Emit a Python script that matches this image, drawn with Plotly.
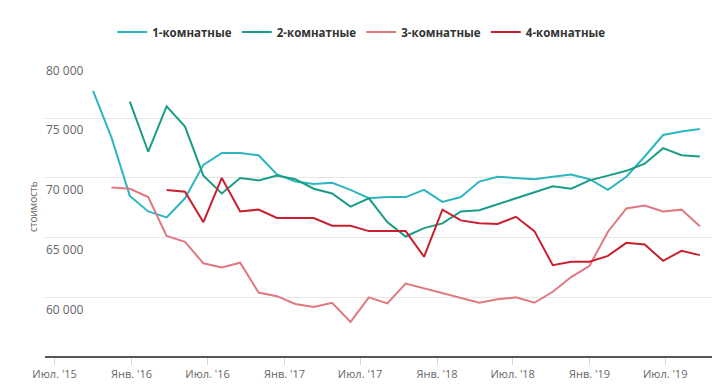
import plotly.graph_objects as go

dates = ["2015-10-01", "2015-11-14", "2015-12-28", "2016-02-10", "2016-03-25", "2016-05-08",
         "2016-06-21", "2016-08-04", "2016-09-17", "2016-10-31", "2016-12-14", "2017-01-27",
         "2017-03-12", "2017-04-25", "2017-06-08", "2017-07-22", "2017-09-04", "2017-10-18",
         "2017-12-01", "2018-01-14", "2018-02-27", "2018-04-12", "2018-05-26", "2018-07-09",
         "2018-08-22", "2018-10-05", "2018-11-18", "2019-01-01", "2019-02-14", "2019-03-30",
         "2019-05-13", "2019-06-26", "2019-08-09", "2019-09-22"]

one_room = [77300, 73400, 68500, 67200, 66700, 68300, 71100, 72100, 72100, 71900, 70300, 69700,
            69500, 69600, 69000, 68300, 68400, 68400, 69000, 68000, 68400, 69700, 70100, 70000,
            69900, 70100, 70300, 69900, 69000, 70100, 71800, 73600, 73900, 74100]
two_room = [None, None, 76400, 72200, 76000, 74300, 70200, 68700, 70000, 69800, 70200, 69900,
            69100, 68700, 67600, 68300, 66300, 65100, 65800, 66200, 67200, 67300, 67800, 68300,
            68800, 69300, 69100, 69800, 70200, 70600, 71200, 72500, 71900, 71800]
three_room = [None, 69200, 69100, 68400, 65150, 64650, 62850, 62500, 62900, 60400, 60100, 59450,
              59200, 59550, 57950, 60000, 59500, 61150, 60750, 60350, 59900, 59550, 59850, 60000,
              59550, 60470, 61700, 62650, 65500, 67450, 67700, 67200, 67350, 65950]
four_room = [None, None, None, None, 69000, 68850, 66300, 70000, 67200, 67350, 66650, 66650,
             66650, 66000, 66000, 65550, 65550, 65550, 63400, 67350, 66450, 66200, 66150, 66750,
             65550, 62700, 62980, 62980, 63480, 64570, 64430, 63060, 63900, 63540]

series_names = ["1-комнатные", "2-комнатные", "3-комнатные", "4-комнатные"]
series_values = [one_room, two_room, three_room, four_room]
series_colors = ["#2cb6c1", "#1b9c86", "#e07882", "#c8202f"]

x_tick_vals = ["2015-07-01", "2016-01-01", "2016-07-01", "2017-01-01", "2017-07-01",
               "2018-01-01", "2018-07-01", "2019-01-01", "2019-07-01"]
x_tick_text = ["Июл. '15", "Янв. '16", "Июл. '16", "Янв. '17", "Июл. '17",
               "Янв. '18", "Июл. '18", "Янв. '19", "Июл. '19"]
y_tick_vals = [60000, 65000, 70000, 75000, 80000]

fig = go.Figure()
for name, vals, col in zip(series_names, series_values, series_colors):
    fig.add_trace(go.Scatter(x=dates, y=vals, name=name, mode="lines",
                             line=dict(color=col, width=2), connectgaps=False))

# The page body adds an 8px margin, so the figure is drawn offset by 8px.
fig.update_layout(
    width=716, height=377,
    margin=dict(l=37, r=12, t=50, b=29, autoexpand=False),
    paper_bgcolor="white", plot_bgcolor="white",
    separators=". ",
    font=dict(family="Open Sans, DejaVu Sans, sans-serif", color="#666666", size=11),
    legend=dict(orientation="h", xref="container", yref="container",
                x=0.494, xanchor="center", y=1 - 24 / 377, yanchor="middle",
                font=dict(size=11.5, color="#333333", weight="bold"),
                itemwidth=30),
    showlegend=True,
)
fig.update_xaxes(type="date", range=["2015-06-08", "2019-10-21"],
                 tickvals=x_tick_vals, ticktext=x_tick_text,
                 showgrid=False, showline=True, linecolor="#555555", linewidth=1.5,
                 ticks="outside", ticklen=7, tickcolor="#ccd6eb",
                 tickfont=dict(size=11, color="#666666"), zeroline=False,
                 automargin=False, ticklabeloverflow="allow")
fig.update_yaxes(range=[55090, 80050], tickvals=y_tick_vals, tickformat=",d",
                 showgrid=True, gridcolor="#e6e6e6", gridwidth=1,
                 showline=False, zeroline=False, ticks="",
                 ticklabelposition="inside", ticklabelshift=12, ticklabelstandoff=-2,
                 ticklabeloverflow="allow", automargin=False,
                 tickfont=dict(size=12, color="#666666"))
fig.add_annotation(text="стоимость", xref="paper", yref="paper", x=0, y=0.5,
                   xanchor="center", yanchor="middle", xshift=-12, textangle=-90,
                   showarrow=False, font=dict(size=10, color="#666666"))

fig.write_html("out.html")
